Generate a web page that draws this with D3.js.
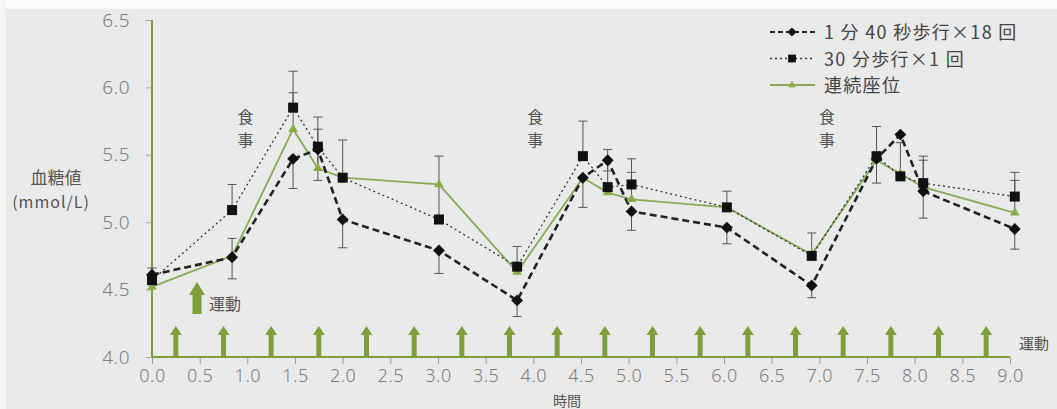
<!DOCTYPE html>
<html>
<head>
<meta charset="utf-8">
<script src="https://cdn.jsdelivr.net/npm/d3@7"></script>
<style>
  body { margin: 0; background: #eaeaea; }
  svg { display: block; }
  text { font-family: "Noto Sans CJK JP", "Noto Sans", sans-serif; }
</style>
</head>
<body>
<script>
// Screen dimensions.
const WIDTH = 1057;
const HEIGHT = 409;

// Data (hours after start, mmol/L)
const times = [0, 0.84, 1.48, 1.74, 2.0, 3.01, 3.83, 4.52, 4.78, 5.03, 6.03, 6.92, 7.6, 7.85, 8.09, 9.05];
const interval18 = [4.61, 4.74, 5.47, 5.54, 5.02, 4.79, 4.42, 5.33, 5.46, 5.08, 4.96, 4.53, 5.47, 5.65, 5.23, 4.95];
const interval18Err = [0.05, 0.16, 0.22, 0.23, 0.21, 0.17, 0.12, 0.22, 0.08, 0.14, 0.12, 0.09, 0.18, 0, 0.20, 0.15];
const walk30 = [4.57, 5.09, 5.85, 5.56, 5.33, 5.02, 4.67, 5.49, 5.26, 5.28, 5.11, 4.75, 5.49, 5.34, 5.29, 5.19];
const walk30Err = [0.09, 0.19, 0.27, 0.22, 0.28, 0.47, 0.15, 0.26, 0.28, 0.19, 0.12, 0.17, 0.22, 0.25, 0.20, 0.18];
const sitting = [4.52, 4.75, 5.69, 5.40, 5.33, 5.28, 4.63, 5.33, 5.22, 5.17, 5.11, 4.76, 5.46, 5.36, 5.26, 5.07];
const sittingErr = [0, 0.13, 0.27, 0.29, 0, 0, 0, 0, 0, 0.20, 0, 0, 0, 0, 0.20, 0.24];

const exerciseTimes = [0.25, 0.75, 1.25, 1.75, 2.25, 2.75, 3.25, 3.75, 4.25, 4.75, 5.25, 5.75, 6.25, 6.75, 7.25, 7.75, 8.25, 8.75];
const mealLabelTimes = [0.98, 4.02, 7.08];
const xTicks = [0, 0.5, 1, 1.5, 2, 2.5, 3, 3.5, 4, 4.5, 5, 5.5, 6, 6.5, 7, 7.5, 8, 8.5, 9];
const yTicks = [4.0, 4.5, 5.0, 5.5, 6.0, 6.5];
const legendLabels = ["1 分 40 秒歩行×18 回", "30 分歩行×1 回", "連続座位"];

const GREEN = "#7f9f3c";
const LINE_GREEN = "#8ba858";

const svg = d3.select("body").append("svg").attr("width", WIDTH).attr("height", HEIGHT);

// paper edge
svg.append("rect").attr("width", WIDTH).attr("height", HEIGHT).attr("fill", "#eaeaea");
svg.append("rect").attr("width", WIDTH).attr("height", 9).attr("fill", "#fafafa");
svg.append("rect").attr("width", 6).attr("height", HEIGHT).attr("fill", "#f6f6f6");

// Scales
const x = d3.scaleLinear().domain([0, 9]).range([152, 1010]);
const y = d3.scaleLinear().domain([4.0, 6.5]).range([357, 20]);

// Axes
const xAxis = svg.append("g").attr("transform", "translate(0," + y(4.0) + ")")
  .call(d3.axisBottom(x).tickValues(xTicks).tickSize(7).tickPadding(5).tickFormat(d3.format(".1f")));
xAxis.select(".domain").remove();
xAxis.selectAll("line").attr("stroke", "#9a9a9a");
xAxis.selectAll("text").attr("fill", "#7c7c7c").style("font-size", "18px")
  .style("font-family", "'Noto Sans', sans-serif").style("font-weight", "300").style("letter-spacing", "0.5px");

const yAxis = svg.append("g").attr("transform", "translate(" + x(0) + ",0)")
  .call(d3.axisLeft(y).tickValues(yTicks).tickSize(6).tickPadding(16).tickFormat(d3.format(".1f")));
yAxis.select(".domain").remove();
yAxis.selectAll("line").attr("stroke", "#a5a5a5");
yAxis.selectAll("text").attr("fill", "#7c7c7c").style("font-size", "19px")
  .style("font-family", "'Noto Sans', sans-serif").style("font-weight", "300").style("letter-spacing", "0.5px");

// green axis lines
svg.append("line").attr("x1", x(0)).attr("x2", x(0)).attr("y1", y(6.5)).attr("y2", y(4.0))
  .attr("stroke", GREEN).attr("stroke-width", 2);
svg.append("line").attr("x1", x(0)).attr("x2", x(9)).attr("y1", y(4.0)).attr("y2", y(4.0))
  .attr("stroke", GREEN).attr("stroke-width", 2);

// axis titles
svg.append("text").attr("x", 56).attr("y", 184).attr("text-anchor", "middle")
  .attr("fill", "#555").style("font-size", "17px").text("血糖値");
svg.append("text").attr("x", 51).attr("y", 208).attr("text-anchor", "middle")
  .attr("fill", "#555").style("font-size", "16px").style("letter-spacing", "1px").text("(mmol/L)");
svg.append("text").attr("x", 567).attr("y", 406).attr("text-anchor", "middle")
  .attr("fill", "#555").style("font-size", "14px").text("時間");

// exercise arrows
function arrow(g, cx, top, bottom, headW, headH, shaftW) {
  g.append("path")
    .attr("d", "M" + cx + "," + top
      + "L" + (cx + headW / 2) + "," + (top + headH)
      + "L" + (cx + shaftW / 2) + "," + (top + headH)
      + "L" + (cx + shaftW / 2) + "," + bottom
      + "L" + (cx - shaftW / 2) + "," + bottom
      + "L" + (cx - shaftW / 2) + "," + (top + headH)
      + "L" + (cx - headW / 2) + "," + (top + headH) + "Z")
    .attr("fill", GREEN);
}
const arrows = svg.append("g");
exerciseTimes.forEach(t => arrow(arrows, x(t), 326, y(4.0) - 1, 12, 9, 5));
arrow(arrows, 197, 282, 314, 16, 13, 9);
svg.append("text").attr("x", 209).attr("y", 310).attr("fill", "#555")
  .style("font-size", "16px").text("運動");
svg.append("text").attr("x", 1019).attr("y", 349).attr("fill", "#555")
  .style("font-size", "15px").text("運動");

// meal labels (vertical)
mealLabelTimes.forEach(t => {
  ["食", "事"].forEach((ch, i) => {
    svg.append("text").attr("x", x(t)).attr("y", 123 + i * 23)
      .attr("fill", "#555").attr("text-anchor", "middle")
      .style("font-size", "16px").text(ch);
  });
});

// Series
const series = [
  { name: legendLabels[2], values: sitting, err: sittingErr, dir: -1, color: LINE_GREEN, width: 1.8, dash: null, shape: "triangle" },
  { name: legendLabels[1], values: walk30, err: walk30Err, dir: -1, color: "#333", width: 1.3, dash: "2,3", shape: "square" },
  { name: legendLabels[0], values: interval18, err: interval18Err, dir: 1, color: "#222", width: 2.6, dash: "7,4", shape: "diamond" }
];

// error bars
const errG = svg.append("g");
series.forEach(s => {
  s.values.forEach((v, i) => {
    const e = s.err[i];
    if (!e) return;
    const end = v - s.dir * e;
    errG.append("line").attr("x1", x(times[i])).attr("x2", x(times[i]))
      .attr("y1", y(v)).attr("y2", y(end)).attr("stroke", "#555").attr("stroke-width", 1);
    errG.append("line").attr("x1", x(times[i]) - 4.5).attr("x2", x(times[i]) + 4.5)
      .attr("y1", y(end)).attr("y2", y(end)).attr("stroke", "#555").attr("stroke-width", 1);
  });
});

// lines
const line = d3.line().x((d, i) => x(times[i])).y(d => y(d));
series.forEach(s => {
  svg.append("path").datum(s.values).attr("d", line).attr("fill", "none")
    .attr("stroke", s.color).attr("stroke-width", s.width)
    .attr("stroke-dasharray", s.dash);
});

// markers
const symbolType = { triangle: d3.symbolTriangle, square: d3.symbolSquare, diamond: d3.symbolDiamond2 };
const symbolSize = { triangle: 40, square: 100, diamond: 90 };
const markerFill = { triangle: "#8aab45", square: "#111", diamond: "#111" };
series.forEach(s => {
  svg.append("g").selectAll("path").data(s.values).enter().append("path")
    .attr("transform", (d, i) => "translate(" + x(times[i]) + "," + y(d) + ")")
    .attr("d", d3.symbol().type(symbolType[s.shape]).size(symbolSize[s.shape]))
    .attr("fill", markerFill[s.shape]);
});

// Legend
const legend = svg.append("g").attr("id", "legend");
const legendRows = [series[2], series[1], series[0]];
legendRows.forEach((s, i) => {
  const ly = 32 + i * 26.5;
  legend.append("line").attr("x1", 770).attr("x2", 815).attr("y1", ly).attr("y2", ly)
    .attr("stroke", s.color).attr("stroke-width", s.shape === "diamond" ? 2.2 : s.width)
    .attr("stroke-dasharray", s.shape === "diamond" ? "5,3" : s.dash);
  legend.append("path")
    .attr("transform", "translate(792," + ly + ")")
    .attr("d", d3.symbol().type(symbolType[s.shape]).size(symbolSize[s.shape] * 0.6))
    .attr("fill", markerFill[s.shape]);
  legend.append("text").attr("x", 824).attr("y", ly + 7).attr("fill", "#444")
    .style("font-size", "18px").style("letter-spacing", "1.3px").text(s.name);
});
</script>
</body>
</html>
